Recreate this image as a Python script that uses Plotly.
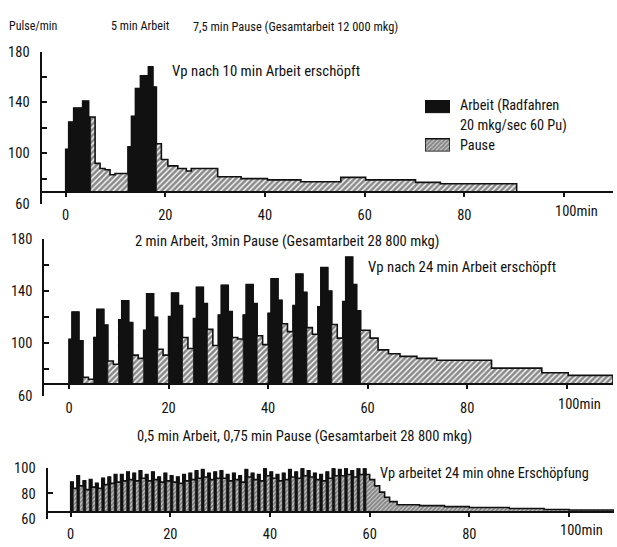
import plotly.graph_objects as go

W, H = 617, 547
FONT = "Roboto Condensed, DejaVu Sans Condensed, sans-serif"
INK = "#111111"

# ---------------- data ----------------
# Panel 1: 5 min Arbeit / 7,5 min Pause  (step profile: edges in min, pulse per step)
p1_edges = [0, 0.6, 1.6, 3.4, 4.6, 5.0, 5.9, 6.9, 7.9, 8.9, 9.9, 12.5, 13.2, 14.0, 15.0,
            16.6, 17.5, 18.2, 19.2, 20.5, 22.5, 24.2, 25.2, 30.5, 35.2, 40.5, 47.2, 55.2,
            60.2, 70.2, 75.2, 90.5]
p1_pulse = [103, 124.5, 135.5, 141, 128.5,
            128.5, 92, 88, 87, 83, 84,
            105, 129, 151, 161, 168, 152,
            107.5, 95, 90, 88, 86, 88, 81.5, 80, 79, 77.5, 81, 79, 77, 76]
p1_kind = ["A"] * 5 + ["P"] * 6 + ["A"] * 6 + ["P"] * 14
p1_rest = 69.5

# Panel 2: 2 min Arbeit / 3 min Pause, cycles of 5 min
p2_cycle_len = 5.0
p2_phase_edges = [0, 0.6, 2.0, 2.8, 3.9, 5.0]
p2_phase_kind = ["A", "A", "A", "P", "P"]
p2_left = [103, 104.5, 118, 110, 120.5, 119, 121.7, 121.7, 123, 129, 128]
p2_peak = [124, 126, 132.5, 138, 138.6, 143, 144.5, 145, 149.5, 153, 158]
p2_right = [102, 114, 116, 120, 129, 130.5, 124.3, 130.5, 133, 139, 140]
p2_pause1 = [74, 86.5, 91, 95.5, 104.5, 110.7, 104.5, 105.8, 115, 112, 114.4]
p2_pause2 = [72.5, 84, 88.5, 91, 96, 98.4, 103.3, 99, 109, 107, 104]
# last working cycle and recovery
p2_last_edges = [55.0, 55.6, 57.0, 57.8, 58.6, 60.5, 62.1, 64.2, 66.5, 69.9, 73.9, 84.9,
                 95.0, 100.3, 109.3]
p2_last_pulse = [132, 166, 145, 125, 110, 104, 95, 92, 90, 88.5, 87, 81, 77.5, 75.5]
p2_last_kind = ["A"] * 4 + ["P"] * 10
p2_rest = 69.1

# Panel 3: 0,5 min Arbeit / 0,75 min Pause, cycles of 1.25 min
p3_cycle_len = 1.25
p3_work_len = 0.5
p3_work = [89, 94, 90, 91, 88, 92, 93, 95,
           95, 97, 96, 98, 95, 97, 93, 96,
           94, 93, 95, 96, 98, 99, 96, 97,
           98, 95, 96, 94, 99, 96, 95, 100,
           97, 95, 96, 99, 97, 100, 98, 96,
           95, 97, 100, 99, 101, 98, 101, 100]
p3_pause = [84, 86, 83, 85, 84, 87, 88, 89,
            90, 91, 90, 92, 90, 91, 89, 90,
            89, 88, 90, 91, 92, 93, 91, 92,
            92, 90, 91, 89, 93, 91, 90, 94,
            92, 90, 91, 93, 92, 94, 93, 91,
            90, 92, 94, 94, 95, 93, 95, 95]
p3_rec_edges = [60, 61, 62, 63, 64, 65.5, 70, 75, 80, 88, 95, 100, 109]
p3_rec_pulse = [91, 86, 81, 77, 73.5, 71, 70.3, 69.5, 68.8, 68, 67.2, 66.8]
p3_rest = 65.5

x_ticks = [0, 20, 40, 60, 80, 100]
x_tick_text = ["0", "20", "40", "60", "80", ""]


# ---------------- build step profiles ----------------
def cycle_profile():
    edges, vals, kinds = [], [], []
    for i in range(len(p2_peak)):
        c = i * p2_cycle_len
        phase_vals = [p2_left[i], p2_peak[i], p2_right[i], p2_pause1[i], p2_pause2[i]]
        for j, v in enumerate(phase_vals):
            edges.append(c + p2_phase_edges[j])
            vals.append(v)
            kinds.append(p2_phase_kind[j])
    edges += p2_last_edges
    vals += p2_last_pulse
    kinds += p2_last_kind
    return edges, vals, kinds


def comb_profile():
    edges, vals, kinds = [], [], []
    for i in range(len(p3_work)):
        c = i * p3_cycle_len
        edges += [c, c + p3_work_len]
        vals += [p3_work[i], p3_pause[i]]
        kinds += ["A", "P"]
    edges += p3_rec_edges
    vals += p3_rec_pulse
    kinds += ["P"] * len(p3_rec_pulse)
    return edges, vals, kinds


HATCH = dict(shape="/", fgcolor=INK, bgcolor="white", size=4, solidity=0.66)
HATCH_DENSE = dict(shape="/", fgcolor=INK, bgcolor="white", size=3, solidity=0.82)

fig = go.Figure()


def runs(kinds):
    """Split the step list into runs of equal kind -> (kind, first, last)."""
    out, s = [], 0
    for i in range(1, len(kinds) + 1):
        if i == len(kinds) or kinds[i] != kinds[s]:
            out.append((kinds[s], s, i - 1))
            s = i
    return out


def add_profile(edges, vals, kinds, base, xa, ya, hatch, outline=True):
    polys = {"A": ([], []), "P": ([], [])}
    for kind, a, b in runs(kinds):
        xs, ys = polys[kind]
        xs += [edges[a], edges[a]]
        ys += [base, vals[a]]
        for i in range(a, b + 1):
            xs += [edges[i + 1]]
            ys += [vals[i]]
            if i < b:
                xs += [edges[i + 1]]
                ys += [vals[i + 1]]
        xs += [edges[b + 1], None]
        ys += [base, None]
    for kind in ("P", "A"):
        xs, ys = polys[kind]
        if not xs:
            continue
        style = dict(fillcolor=INK) if kind == "A" else dict(fillcolor="white", fillpattern=hatch)
        fig.add_trace(go.Scatter(x=xs, y=ys, mode="lines", fill="toself",
                                 line=dict(color=INK, width=0.8 if kind == "A" else 0),
                                 xaxis=xa, yaxis=ya, showlegend=False, hoverinfo="skip",
                                 **style))
    if outline:
        ox = [edges[0]] + list(edges[:-1]) + [edges[-1], edges[-1]]
        oy = [base] + list(vals) + [vals[-1], base]
        fig.add_trace(go.Scatter(x=ox, y=oy, mode="lines", line_shape="hv",
                                 line=dict(color=INK, width=1.6),
                                 xaxis=xa, yaxis=ya, showlegend=False, hoverinfo="skip"))


add_profile(p1_edges, p1_pulse, p1_kind, p1_rest, "x", "y", HATCH)
e2, v2, k2 = cycle_profile()
add_profile(e2, v2, k2, p2_rest, "x2", "y2", HATCH)
e3, v3, k3 = comb_profile()
add_profile(e3, v3, k3, p3_rest, "x3", "y3", HATCH_DENSE)

# legend boxes on their own small axis pair
fig.add_trace(go.Bar(x=[1], y=[1], base=[0], width=[0.325], orientation="h",
                     marker=dict(color=INK, line=dict(color=INK, width=1)),
                     xaxis="x4", yaxis="y4", showlegend=False, hoverinfo="skip"))
fig.add_trace(go.Bar(x=[1], y=[0], base=[0], width=[0.325], orientation="h",
                     marker=dict(color="white", pattern=HATCH_DENSE, line=dict(color=INK, width=1.5)),
                     xaxis="x4", yaxis="y4", showlegend=False, hoverinfo="skip"))


# ---------------- axes ----------------
def px_x(p):
    return p / W


def px_y(p):
    return 1 - p / H


panels = [
    dict(xl=40.5, xr=613, x0=65.7, ppm=4.983, yt=45, yb=202.3, lo=60, hi=180,
         rest=p1_rest, yt_vals=[60, 100, 140, 180], minor=True, stand=6),
    dict(xl=43.3, xr=613, x0=69.0, ppm=4.977, yt=238.3, yb=400, lo=60, hi=180,
         rest=p2_rest, yt_vals=[60, 100, 140, 180], minor=True, stand=7),
    dict(xl=46.5, xr=614, x0=70.7, ppm=4.983, yt=475, yb=527, lo=60, hi=100,
         rest=p3_rest, yt_vals=[60, 80, 100], minor=False, stand=5),
]

tick_font = dict(family=FONT, size=14.5, color=INK)
for n, p in enumerate(panels, start=1):
    sfx = "" if n == 1 else str(n)
    ydom = [px_y(p["yb"]), px_y(p["yt"])]
    rest_px = p["yb"] - (p["rest"] - p["lo"]) * (p["yb"] - p["yt"]) / (p["hi"] - p["lo"])
    fig.layout["xaxis" + sfx] = dict(
        domain=[px_x(p["xl"]), px_x(p["xr"])],
        range=[(p["xl"] - p["x0"]) / p["ppm"], (p["xr"] - p["x0"]) / p["ppm"]],
        anchor="free", position=px_y(rest_px),
        showline=True, linecolor=INK, linewidth=2,
        ticks="outside", ticklen=4, tickwidth=2, tickcolor=INK,
        tickvals=x_ticks, ticktext=x_tick_text, tickfont=tick_font,
        ticklabelstandoff=p["stand"], showgrid=False, zeroline=False, fixedrange=True,
    )
    yax = dict(
        domain=ydom, range=[p["lo"], p["hi"]],
        anchor="free", position=px_x(p["xl"]),
        showline=True, linecolor=INK, linewidth=2,
        ticks="inside", ticklen=5, tickwidth=2, tickcolor=INK,
        tickvals=p["yt_vals"], tickfont=tick_font, ticklabelstandoff=7,
        showgrid=False, zeroline=False, fixedrange=True,
    )
    if p["minor"]:
        yax["minor"] = dict(ticks="inside", ticklen=5, tickwidth=2, tickcolor=INK,
                            tick0=60, dtick=20, showgrid=False)
    fig.layout["yaxis" + sfx] = yax

fig.layout["xaxis4"] = dict(domain=[px_x(425), px_x(450)], range=[0, 1], visible=False,
                            anchor="y4", fixedrange=True)
fig.layout["yaxis4"] = dict(domain=[px_y(148), px_y(95)], range=[-0.1625, 1.1625],
                            visible=False, anchor="x4", fixedrange=True)

# ---------------- text ----------------
ann = []


def text(s, xpx, ypx, size):
    ann.append(dict(text=s, x=px_x(xpx), y=px_y(ypx), xref="paper", yref="paper",
                    xanchor="left", yanchor="middle", showarrow=False,
                    font=dict(family=FONT, size=size, color=INK)))


text("Pulse/min", 7, 19, 12)
text("5 min Arbeit", 109, 19, 12.2)
text("7,5 min Pause (Gesamtarbeit 12 000 mkg)", 191, 19, 12.4)
text("Vp nach 10 min Arbeit erschöpft", 170, 65, 14.8)
text("Arbeit (Radfahren", 458, 101, 14.3)
text("20 mkg/sec 60 Pu)", 458, 121, 14.3)
text("Pause", 458, 141, 14.3)
text("2 min Arbeit, 3min Pause (Gesamtarbeit 28 800 mkg)", 133, 240, 14.6)
text("Vp nach 24 min Arbeit erschöpft", 366, 267, 14.8)
text("0,5 min Arbeit, 0,75 min Pause (Gesamtarbeit 28 800 mkg)", 135, 442, 14.6)
text("Vp arbeitet 24 min ohne Erschöpfung", 378, 480, 14.3)

# "100min" label at the 100 tick of each panel
for n, p in enumerate(panels, start=1):
    sfx = "" if n == 1 else str(n)
    rest_px = p["yb"] - (p["rest"] - p["lo"]) * (p["yb"] - p["yt"]) / (p["hi"] - p["lo"])
    ann.append(dict(text="100min", x=100, xref="x" + sfx, y=px_y(rest_px), yref="paper",
                    xanchor="left", yanchor="top", xshift=-11, yshift=-(p["stand"] + 3),
                    showarrow=False, font=tick_font))

fig.update_layout(
    width=W, height=H, margin=dict(l=0, r=0, t=0, b=0),
    paper_bgcolor="white", plot_bgcolor="white",
    barmode="overlay", annotations=ann, showlegend=False,
    font=dict(family=FONT, color=INK),
)

fig.write_html("out.html")
